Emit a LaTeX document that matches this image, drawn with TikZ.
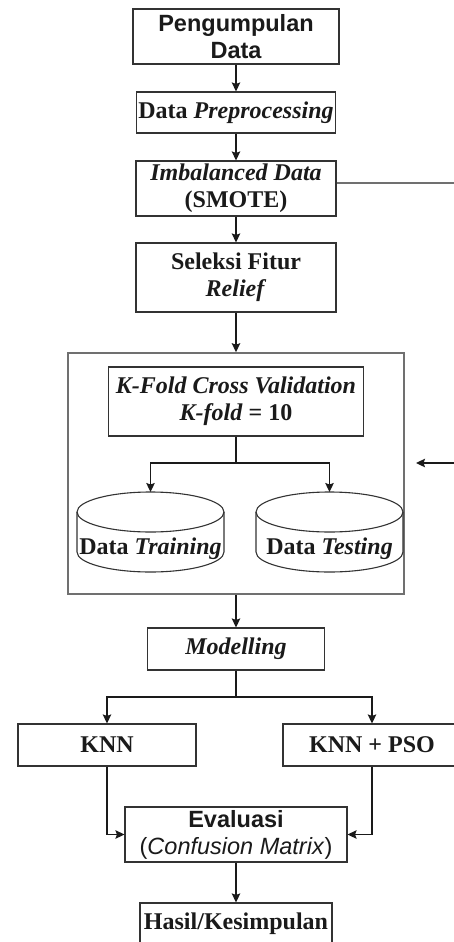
\documentclass[tikz,border=0pt]{standalone}
\usepackage{fontspec}
\setmainfont{Liberation Serif}
\newfontfamily\arialf{Liberation Sans}
\usetikzlibrary{arrows.meta}
\definecolor{ink}{HTML}{1A1A1A}
\definecolor{edge}{HTML}{333333}
\definecolor{greyline}{HTML}{707070}
\begin{document}
\begin{tikzpicture}[x=1pt,y=-1pt,
  box/.style={draw=edge, line width=1.1pt, fill=white, text=ink, inner sep=0pt, align=center,
    font=\fontsize{24}{27}\selectfont\bfseries},
  sbox/.style={box, font=\fontsize{23.5}{27}\selectfont\arialf\bfseries},
  cyltext/.style={text=ink, inner sep=0pt, font=\fontsize{24}{27}\selectfont\bfseries},
  arr/.style={draw=ink, line width=1.4pt, -{Stealth[length=9pt,width=8.5pt,inset=1.5pt]}},
  ln/.style={draw=ink, line width=1.4pt},
  gline/.style={draw=greyline, line width=1.6pt},
  cyl/.style={draw=edge, line width=1.1pt}
]
\useasboundingbox (0,0) rectangle (454,942);
\clip (0,0) rectangle (454,942);
\fill[white] (0,0) rectangle (454,942);

% main column
\node[sbox, minimum width=206pt, minimum height=55pt] (p1) at (236,36.5) {Pengumpulan\\Data};
\node[box, minimum width=199pt, minimum height=41pt] (p2) at (236,112.5) {Data \textit{Preprocessing}};
\node[box, minimum width=200pt, minimum height=55pt] (p3) at (236,188.5) {\textit{Imbalanced Data}\\(SMOTE)};
\node[box, minimum width=200pt, minimum height=69pt] (p4) at (236,277.5) {Seleksi Fitur\\\textit{Relief}};

% outer container
\node[draw=greyline, line width=1.6pt, inner sep=0pt, minimum width=336pt, minimum height=241pt] (outer) at (236,473.5) {};
\node[box, minimum width=255pt, minimum height=69pt] (kf) at (236,401.5) {\textit{K-Fold Cross Validation}\\\textit{K-fold} = 10};

% cylinders
\draw[cyl, fill=white] (77pt,-512pt) -- (77pt,-552pt) arc[start angle=180,end angle=360,x radius=73.5pt,y radius=20pt] -- (224pt,-512pt);
\draw[cyl] (150.5pt,-512pt) ellipse [x radius=73.5pt, y radius=20pt];
\draw[cyl, fill=white] (256pt,-512pt) -- (256pt,-552pt) arc[start angle=180,end angle=360,x radius=73.5pt,y radius=20pt] -- (403pt,-512pt);
\draw[cyl] (329.5pt,-512pt) ellipse [x radius=73.5pt, y radius=20pt];
\node[cyltext] (tr) at (150.5,549) {Data \textit{Training}};
\node[cyltext] (te) at (329.5,549) {Data \textit{Testing}};
\coordinate (trtop) at (150.5,492);
\coordinate (tetop) at (329.5,492);

\node[box, minimum width=177pt, minimum height=42pt] (mod) at (236,649) {\textit{Modelling}};
\node[box, minimum width=178pt, minimum height=42pt] (knn) at (107,745) {KNN};
\node[box, minimum width=178pt, minimum height=42pt] (pso) at (372,745) {KNN + PSO};
\node[box, minimum width=222pt, minimum height=55pt, font=\fontsize{23.5}{27}\selectfont\arialf] (ev) at (236,834.5) {\textbf{Evaluasi}\\(\textit{Confusion Matrix})};
\node[box, minimum width=192pt, minimum height=42pt] (ha) at (236,924) {Hasil/Kesimpulan};

% side connectors
\coordinate (r1) at (460,183);
\draw[gline] (p3.east |- r1) -- (r1);
\coordinate (r2) at (460,463);
\coordinate (r2end) at (416,463);
\draw[arr] (r2) -- (r2end);

% connectors
\draw[arr] (p1) -- (p2);
\draw[arr] (p2) -- (p3);
\draw[arr] (p3) -- (p4);
\draw[arr] (p4.south) -- (outer.north -| p4.south);
\coordinate (split1) at (236,463);
\draw[ln] (kf.south) -- (split1);
\draw[arr] (split1) -| (trtop);
\draw[arr] (split1) -| (tetop);
\draw[arr] (outer.south -| mod.north) -- (mod.north);
\coordinate (split2) at (236,697);
\draw[ln] (mod.south) -- (split2);
\draw[arr] (split2) -| (knn.north);
\draw[arr] (split2) -| (pso.north);
\draw[arr] (knn.south) |- (ev.west);
\draw[arr] (pso.south) |- (ev.east);
\draw[arr] (ev) -- (ha);
\end{tikzpicture}
\end{document}
